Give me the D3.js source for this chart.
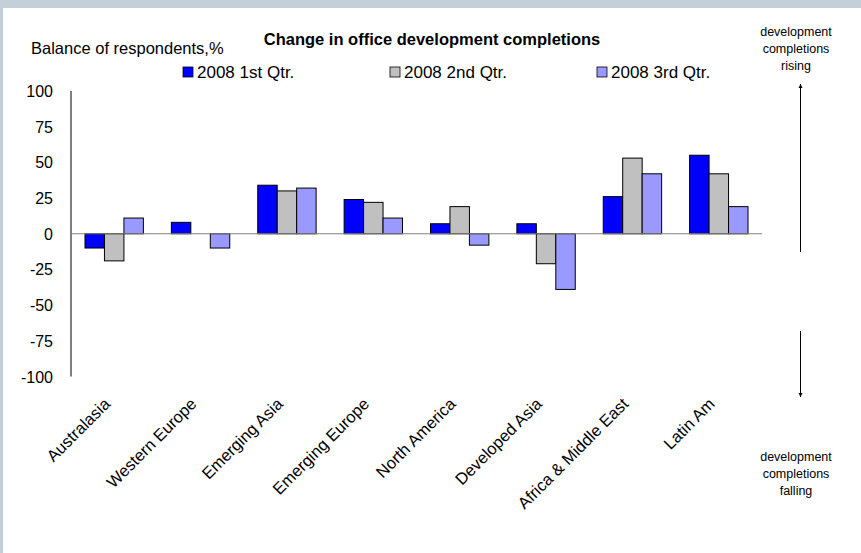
<!DOCTYPE html>
<html>
<head>
<meta charset="utf-8">
<script src="https://cdn.jsdelivr.net/npm/d3@7"></script>
<style>
  body { margin: 0; background: #c3d0da; }
  svg { display: block; }
  text { font-family: "Liberation Sans", Arial, sans-serif; fill: #000; }
</style>
</head>
<body>
<svg id="chart" width="861" height="553"></svg>
<script>
var categories = ["Australasia", "Western Europe", "Emerging Asia", "Emerging Europe",
  "North America", "Developed Asia", "Africa & Middle East", "Latin Am"];
var seriesNames = ["2008 1st Qtr.", "2008 2nd Qtr.", "2008 3rd Qtr."];
var q1 = [-10, 8, 34, 24, 7, 7, 26, 55];
var q2 = [-19, 0, 30, 22, 19, -21, 53, 42];
var q3 = [11, -10, 32, 11, -8, -39, 42, 19];
var yTicks = [100, 75, 50, 25, 0, -25, -50, -75, -100];
var colors = ["#0000ff", "#c0c0c0", "#9999ff"];

var svg = d3.select("#chart");

// white panel
svg.append("rect").attr("x", 3).attr("y", 8).attr("width", 858).attr("height", 545).attr("fill", "#fff");

var x0 = d3.scaleBand().domain(categories).range([71, 762]);
var bw = x0.bandwidth();
var x1 = d3.scaleBand().domain(seriesNames).range([bw * 0.162, bw * 0.838]);
var y = d3.scaleLinear().domain([-100, 100]).range([376.5, 91]);

var values = [q1, q2, q3];

// y axis labels
svg.selectAll(".ytick")
  .data(yTicks)
  .enter()
  .append("text")
  .attr("x", 53)
  .attr("y", function (d) { return y(d) + 6; })
  .attr("text-anchor", "end")
  .attr("font-size", "16px")
  .text(function (d) { return d; });

svg.append("line")
  .attr("x1", 71).attr("x2", 71)
  .attr("y1", y(100)).attr("y2", y(-100))
  .attr("stroke", "#000").attr("stroke-width", 1);

// bars
values.forEach(function (vals, s) {
  svg.append("g")
    .selectAll("rect")
    .data(vals)
    .enter()
    .append("rect")
    .attr("x", function (d, i) { return x0(categories[i]) + x1(seriesNames[s]); })
    .attr("y", function (d) { return y(Math.max(0, d)); })
    .attr("width", x1.bandwidth())
    .attr("height", function (d) { return Math.abs(y(d) - y(0)); })
    .attr("fill", colors[s])
    .attr("stroke", "#000")
    .attr("stroke-width", function (d) { return d == 0 ? 0 : 1; });
});

// zero line
svg.append("line")
  .attr("x1", 71).attr("x2", 762)
  .attr("y1", y(0)).attr("y2", y(0))
  .attr("stroke", "#808080").attr("stroke-width", 1.2);

// category labels
svg.selectAll(".xlab")
  .data(categories)
  .enter()
  .append("text")
  .attr("transform", function (d) {
    return "translate(" + (x0(d) + bw / 2 - 3) + "," + 405 + ") rotate(-45)";
  })
  .attr("text-anchor", "end")
  .attr("font-size", "16.5px")
  .text(function (d) { return d; });

// title
svg.append("text")
  .attr("x", 432).attr("y", 45)
  .attr("text-anchor", "middle")
  .attr("font-size", "16.5px")
  .attr("font-weight", "bold")
  .text("Change in office development completions");

svg.append("text")
  .attr("x", 31).attr("y", 54)
  .attr("font-size", "16.5px")
  .text("Balance of respondents,%");

// legend
var legendX = [183, 390, 597];
seriesNames.forEach(function (name, s) {
  svg.append("rect")
    .attr("x", legendX[s]).attr("y", 67)
    .attr("width", 10).attr("height", 10)
    .attr("fill", colors[s]).attr("stroke", "#000").attr("stroke-width", 0.8);
  svg.append("text")
    .attr("x", legendX[s] + 14).attr("y", 78)
    .attr("font-size", "17px")
    .text(name);
});

// right side annotations
var topNote = ["development", "completions", "rising"];
var bottomNote = ["development", "completions", "falling"];
svg.selectAll(".topnote")
  .data(topNote)
  .enter()
  .append("text")
  .attr("x", 796)
  .attr("y", function (d, i) { return 36 + i * 17; })
  .attr("text-anchor", "middle")
  .attr("font-size", "12.5px")
  .text(function (d) { return d; });
svg.selectAll(".botnote")
  .data(bottomNote)
  .enter()
  .append("text")
  .attr("x", 796)
  .attr("y", function (d, i) { return 461 + i * 17; })
  .attr("text-anchor", "middle")
  .attr("font-size", "12.5px")
  .text(function (d) { return d; });

var defs = svg.append("defs");
defs.append("marker")
  .attr("id", "arrow")
  .attr("viewBox", "0 0 10 10")
  .attr("refX", 10).attr("refY", 5)
  .attr("markerWidth", 4).attr("markerHeight", 5)
  .attr("orient", "auto")
  .append("path")
  .attr("d", "M0,0 L10,5 L0,10 Z")
  .attr("fill", "#000");

svg.append("line")
  .attr("x1", 800.5).attr("x2", 800.5)
  .attr("y1", 252).attr("y2", 84)
  .attr("stroke", "#000").attr("stroke-width", 1)
  .attr("marker-end", "url(#arrow)");
svg.append("line")
  .attr("x1", 800.5).attr("x2", 800.5)
  .attr("y1", 331).attr("y2", 397)
  .attr("stroke", "#000").attr("stroke-width", 1)
  .attr("marker-end", "url(#arrow)");
</script>
</body>
</html>
